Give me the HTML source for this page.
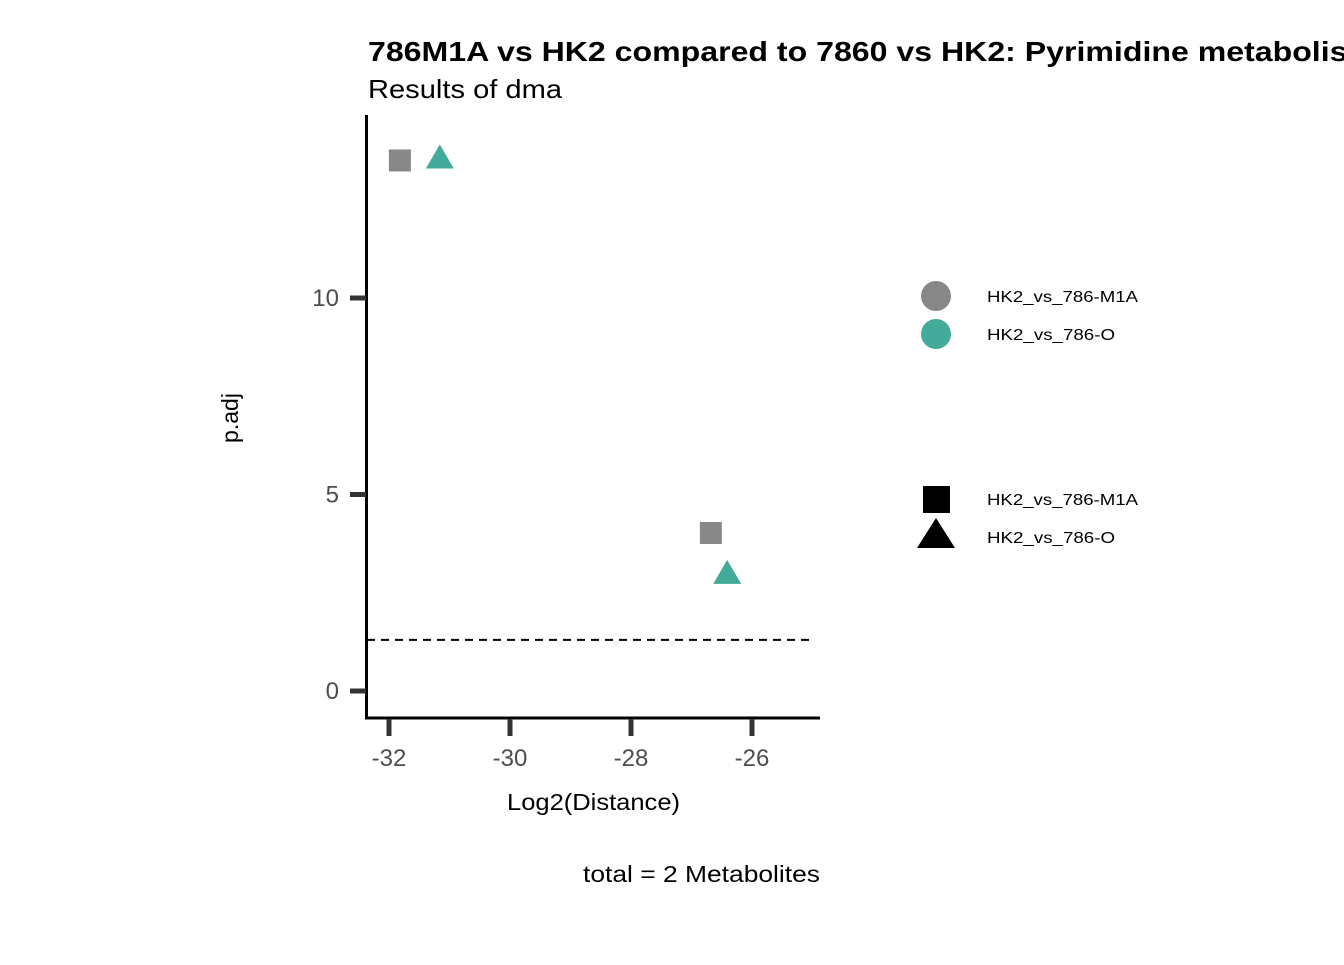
<!DOCTYPE html>
<html><head><meta charset="utf-8"><style>
body{margin:0;background:#fff}
svg text{font-family:"Liberation Sans",sans-serif}
</style></head><body>
<svg width="1344" height="960" id="c">
<text x="368" y="61" font-size="28" font-weight="bold" textLength="1008" lengthAdjust="spacingAndGlyphs">786M1A vs HK2 compared to 7860 vs HK2: Pyrimidine metabolism</text>
<text x="368" y="98" font-size="26" textLength="194" lengthAdjust="spacingAndGlyphs">Results of dma</text>
<g id="plot"></g>
<text x="507" y="810" font-size="23" textLength="173" lengthAdjust="spacingAndGlyphs">Log2(Distance)</text>
<text transform="translate(238,418) rotate(-90)" font-size="23" text-anchor="middle">p.adj</text>
<text x="583" y="882" font-size="23" textLength="237" lengthAdjust="spacingAndGlyphs">total = 2 Metabolites</text>
<g>
<circle cx="936" cy="296" r="15" fill="#888888"/>
<text x="987" y="302" font-size="16" textLength="151" lengthAdjust="spacingAndGlyphs">HK2_vs_786-M1A</text>
<circle cx="936" cy="334" r="15" fill="#44AA99"/>
<text x="987" y="340" font-size="16" textLength="128" lengthAdjust="spacingAndGlyphs">HK2_vs_786-O</text>
</g>
<g>
<rect x="923" y="486" width="27" height="27" fill="#000"/>
<text x="987" y="505" font-size="16" textLength="151" lengthAdjust="spacingAndGlyphs">HK2_vs_786-M1A</text>
<polygon points="936,518 955,548 917,548" fill="#000"/>
<text x="987" y="543" font-size="16" textLength="128" lengthAdjust="spacingAndGlyphs">HK2_vs_786-O</text>
</g>
</svg>
<script>
const xValues=[-31.82,-31.16,-26.68,-26.41];
const yValues=[13.5,13.5,4.02,2.93];
const groups=["M1A","O","M1A","O"];
const xTicks=[-32,-30,-28,-26];
const yTicks=[0,5,10];
const threshold=1.3;
const X=v=>389+(v+32)*60.5;
const Y=v=>691-v*39.3;
const NS="http://www.w3.org/2000/svg";
const g=document.getElementById('plot');
function mk(t,a){const e=document.createElementNS(NS,t);for(const k in a)e.setAttribute(k,a[k]);g.appendChild(e);return e;}
let e;
e=mk('line',{x1:366.5,y1:115,x2:366.5,y2:719,stroke:'#000','stroke-width':3});


e=mk('line',{x1:365,y1:718,x2:820,y2:718,stroke:'#000','stroke-width':3});


xTicks.forEach(t=>{
 e=mk('line',{x1:X(t),y1:719,x2:X(t),y2:736,stroke:'#333','stroke-width':5});
 
 
 e=mk('text',{x:X(t),y:766,'font-size':24,fill:'#4d4d4d','text-anchor':'middle'});e.textContent=t;
 
 
});
yTicks.forEach(t=>{
 e=mk('line',{x1:350,y1:Y(t),x2:366,y2:Y(t),stroke:'#333','stroke-width':5});
 
 
 e=mk('text',{x:339,y:Y(t)+8,'font-size':24,fill:'#4d4d4d','text-anchor':'end'});e.textContent=t;
 
 
});
e=mk('line',{x1:367,y1:Y(threshold),x2:812,y2:Y(threshold),stroke:'#000','stroke-width':2,'stroke-dasharray':'8,6'});


xValues.forEach((v,i)=>{
 const cx=X(v),cy=Y(yValues[i]);
 if(groups[i]==="M1A"){
  e=mk('rect',{x:cx-11,y:cy-11,width:22,height:22,fill:'#888888'});
  
  
 }else{
  e=mk('polygon',{points:`${cx},${cy-16} ${cx+14},${cy+8} ${cx-14},${cy+8}`,fill:'#44AA99'});
  
  
 }
});
</script>
</body></html>
